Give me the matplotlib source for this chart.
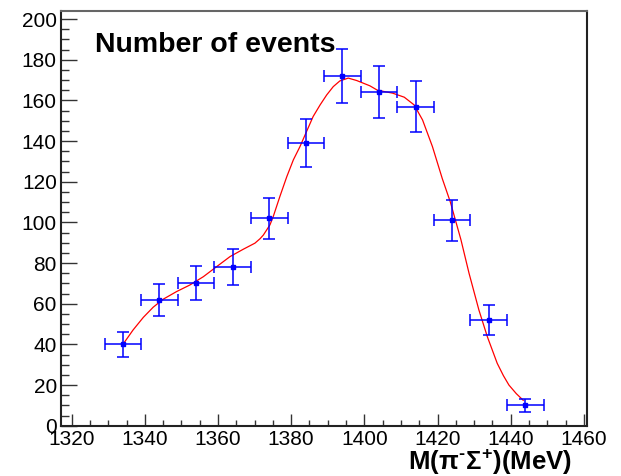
import matplotlib
matplotlib.use("Agg")
import matplotlib.pyplot as plt
from matplotlib.ticker import MultipleLocator

plt.rcParams['font.family'] = ['Liberation Sans', 'DejaVu Sans']
plt.rcParams['mathtext.fontset'] = 'custom'
plt.rcParams['mathtext.rm'] = 'Liberation Sans:bold'
plt.rcParams['mathtext.it'] = 'Liberation Sans:bold'
plt.rcParams['mathtext.bf'] = 'Liberation Sans:bold'

# data points (bin centres, counts, errors)
mass = [1334, 1344, 1354, 1364, 1374, 1384, 1394, 1404, 1414, 1424, 1434, 1444]
counts = [40, 62, 70, 78, 102, 139, 172, 164, 157, 101, 52, 10]
count_err = [6.3, 7.9, 8.4, 8.8, 10.1, 11.8, 13.1, 12.8, 12.5, 10.0, 7.2, 3.2]
mass_err = [5] * 12

# fit curve
fit_x = [1334.1, 1336.8, 1339.6, 1342.3, 1345.0, 1348.7, 1352.3, 1356.0, 1359.6,
         1363.3, 1366.9, 1370.1, 1371.5, 1372.4, 1373.3, 1374.2, 1375.1, 1376.9,
         1378.8, 1380.6, 1382.4, 1384.2, 1386.0, 1387.9, 1389.7, 1391.5, 1393.3,
         1395.6, 1397.9, 1401.5, 1403.6, 1407.7, 1410.9, 1413.6, 1415.9, 1418.6,
         1421.3, 1423.5, 1426.4, 1428.6, 1431.3, 1433.6, 1436.3, 1438.0, 1439.5,
         1441.5, 1443.4]
fit_y = [40.2, 47.1, 53.3, 58.3, 62.2, 66.0, 69.2, 73.3, 78.2,
         83.2, 86.8, 89.8, 92.0, 93.8, 96.3, 98.8, 102.9, 112.7,
         122.5, 130.8, 137.3, 144.7, 152.1, 157.8, 162.7, 166.8, 169.6,
         171.0, 169.8, 167.2, 165.0, 163.6, 161.6, 157.8, 150.4, 137.3,
         121.5, 110.0, 91.4, 75.0, 56.9, 43.8, 30.7, 24.6, 20.0,
         15.8, 12.5]

xticks = [1320, 1340, 1360, 1380, 1400, 1420, 1440, 1460]
yticks = [0, 20, 40, 60, 80, 100, 120, 140, 160, 180, 200]

fig = plt.figure(figsize=(6.21, 4.76), dpi=100)
ax = fig.add_axes([61 / 621, 1 - 425.7 / 476, (586.5 - 61) / 621, (425.7 - 11) / 476])

ax.plot(fit_x, fit_y, color='#ff0000', lw=0.9, zorder=2, solid_joinstyle='round')
ax.errorbar(mass, counts, xerr=mass_err, yerr=count_err, fmt='s', color='#0000ff',
            ms=3.5, elinewidth=1.1, capsize=4.5, capthick=1.1, zorder=3)

ax.set_xlim(1317.1, 1460.7)
ax.set_ylim(0, 204)
ax.set_xticks(xticks)
ax.set_yticks(yticks)
ax.xaxis.set_minor_locator(MultipleLocator(5))
ax.yaxis.set_minor_locator(MultipleLocator(5))
ax.tick_params(axis='both', which='both', direction='in', top=False, right=False,
               colors='#333333', labelcolor='black', labelsize=15, width=1)
ax.tick_params(axis='x', which='major', length=8.6, pad=3)
ax.tick_params(axis='x', which='minor', length=4.3)
ax.tick_params(axis='y', which='major', length=11.5, pad=3)
ax.tick_params(axis='y', which='minor', length=5.8)

for side in ['left', 'bottom', 'right']:
    ax.spines[side].set_linewidth(1.5)
    ax.spines[side].set_color('#222222')
ax.spines['top'].set_linewidth(1.5)
ax.spines['top'].set_color('#666666')

fig.text(95 / 621, 1 - 45 / 476, 'Number of events', fontsize=20.5, fontweight='bold',
         ha='left', va='center')
fig.text(572 / 621, 1 - 470 / 476, 'M($\\pi^{\u2010}\\Sigma^{+}$)(MeV)', fontsize=18.5,
         fontweight='bold', ha='right', va='baseline')

fig.savefig('out.png', dpi=100)
